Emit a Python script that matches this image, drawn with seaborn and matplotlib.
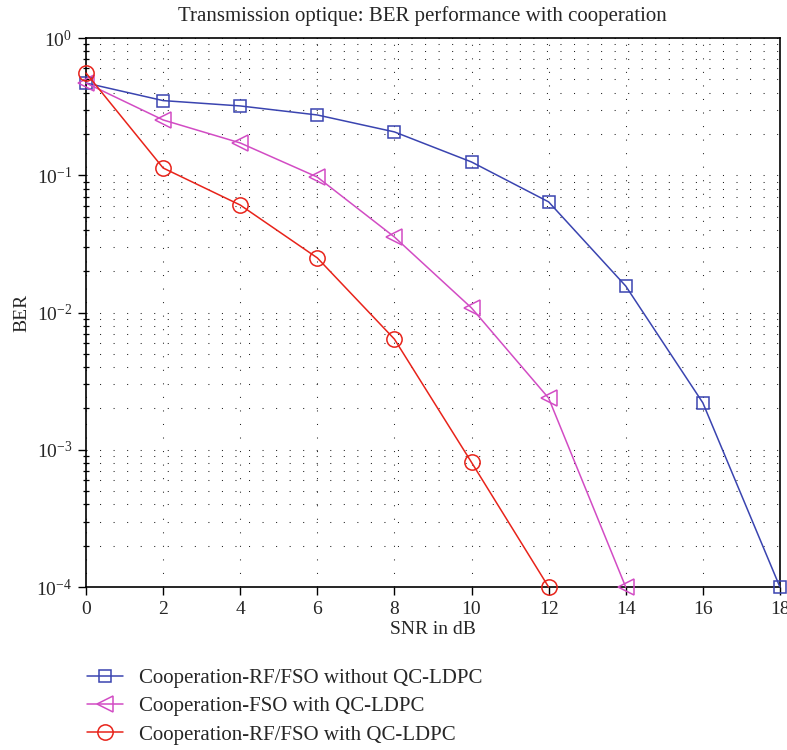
import numpy as np
import pandas as pd
import matplotlib
matplotlib.use("Agg")
import matplotlib.pyplot as plt
import seaborn as sns
from matplotlib.ticker import LogLocator, NullFormatter, FixedLocator

snr = [0, 2, 4, 6, 8, 10, 12, 14, 16, 18]
ber_rf_fso_no_ldpc = [0.47, 0.35, 0.32, 0.275, 0.207, 0.125, 0.064, 0.0156, 0.0022, 1e-4]
snr_fso = [0, 2, 4, 6, 8, 10, 12, 14]
ber_fso_ldpc = [0.47, 0.253, 0.172, 0.097, 0.0355, 0.0108, 0.00238, 1e-4]
snr_rf = [0, 2, 4, 6, 8, 10, 12]
ber_rf_fso_ldpc = [0.556, 0.113, 0.0607, 0.025, 0.0064, 0.00081, 1e-4]

labels = ["Cooperation-RF/FSO without QC-LDPC",
          "Cooperation-FSO with QC-LDPC",
          "Cooperation-RF/FSO with QC-LDPC"]
title = "Transmission optique: BER performance with cooperation"
xlabel = "SNR in dB"
ylabel = "BER"
xticks = [0, 2, 4, 6, 8, 10, 12, 14, 16, 18]

sns.set_theme(style="white")
plt.rcParams['font.family'] = ['Liberation Serif', 'DejaVu Serif']
plt.rcParams['mathtext.fontset'] = 'stix'

fig = plt.figure(figsize=(7.87, 7.5), dpi=100)
ax = fig.add_axes([0.1093, 0.2173, 0.8817, 0.732])

colors = ["#3a44b0", "#d24cc4", "#e8231a"]
series = [(snr, ber_rf_fso_no_ldpc, "s", 9), (snr_fso, ber_fso_ldpc, "<", 12),
          (snr_rf, ber_rf_fso_ldpc, "o", 11)]
for (x, y, m, ms), c, lab in zip(series, colors, labels):
    df = pd.DataFrame({"x": x, "y": y})
    sns.lineplot(data=df, x="x", y="y", ax=ax, color=c, lw=1.1, marker=m,
                 markersize=ms, markerfacecolor="none", markeredgecolor=c,
                 markeredgewidth=1.1, label=lab, legend=False, clip_on=False, zorder=3)

ax.set_yscale("log")
ax.set_xlim(0, 18)
ax.set_ylim(1e-4, 1)
ax.xaxis.set_major_locator(FixedLocator(xticks))
ax.yaxis.set_major_locator(LogLocator(base=10, numticks=10))
ax.yaxis.set_minor_locator(LogLocator(base=10, subs=np.arange(2, 10), numticks=20))
ax.yaxis.set_minor_formatter(NullFormatter())

grid_ls = (0, (1, 12))
ax.grid(True, which="major", axis="both", color="#222222", lw=0.75, ls=grid_ls)
ax.grid(True, which="minor", axis="y", color="#222222", lw=0.75, ls=grid_ls)

for s in ax.spines.values():
    s.set_color("black")
    s.set_linewidth(1.2)
ax.tick_params(axis="both", which="major", labelsize=14, direction="out", length=6,
               width=1, color="black", left=True, bottom=True, top=False, right=False, pad=4)
ax.tick_params(axis="y", which="minor", direction="inout", length=5, width=0.9,
               color="black", left=True, right=False)

ax.set_title(title, fontsize=15, pad=12, x=0.485)
ax.set_xlabel(xlabel, fontsize=14, labelpad=2)
ax.set_ylabel(ylabel, fontsize=14, labelpad=4)

handles, labs = ax.get_legend_handles_labels()
fig.legend(handles, labs, loc="upper left", bbox_to_anchor=(0.100, 0.12),
           frameon=False, fontsize=15, handlelength=1.75, handletextpad=0.75,
           labelspacing=0.42, borderaxespad=0)

fig.savefig("out.png", dpi=100)
